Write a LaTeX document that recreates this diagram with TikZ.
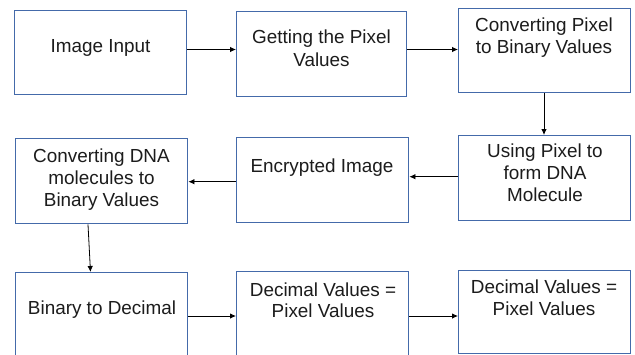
\documentclass[tikz,border=0pt]{standalone}
\usepackage{fontspec}
\setmainfont{Liberation Sans}
\usetikzlibrary{arrows.meta}
\definecolor{boxblue}{RGB}{68,106,170}
\definecolor{inkgray}{RGB}{28,28,28}
\tikzset{
  stepbox/.style={draw=boxblue, line width=1.4pt, fill=white, inner sep=0pt, anchor=north west},
  label/.style={anchor=base, inner sep=0pt, align=center, text=inkgray,
    font=\fontsize{18.9pt}{21.7pt}\selectfont},
  flow/.style={draw=black, line width=0.8pt, -{Latex[length=6pt,width=5.5pt]}}
}
\begin{document}
\begin{tikzpicture}[x=1pt, y=-1pt]
  \useasboundingbox (0,0) rectangle (635,354);
  \clip (0,0) rectangle (635,354);
  \fill[white] (0,0) rectangle (635,354);

  % process boxes
  \node[stepbox, minimum width=172pt, minimum height=84pt]  (b1) at (14,9.5) {};
  \node[stepbox, minimum width=170pt, minimum height=84.5pt] (b2) at (236,11) {};
  \node[stepbox, minimum width=172pt, minimum height=84pt]  (b3) at (458,7.5) {};
  \node[stepbox, minimum width=172.5pt, minimum height=85pt] (b4) at (14.5,138) {};
  \node[stepbox, minimum width=172pt, minimum height=84.5pt] (b5) at (236,137) {};
  \node[stepbox, minimum width=172pt, minimum height=84.5pt] (b6) at (458,135) {};
  \node[stepbox, minimum width=172.5pt, minimum height=100pt] (b7) at (14.5,272) {};
  \node[stepbox, minimum width=172pt, minimum height=100pt]  (b8) at (236,271) {};
  \node[stepbox, minimum width=172pt, minimum height=83pt]  (b9) at (458,269.5) {};

  % box texts (placed by the baseline of their last line)
  \node[label] (t1) at (100.5,52.5) {Image Input};
  \node[label, font=\fontsize{18.9pt}{23.4pt}\selectfont] (t2) at (321.5,66.7) {Getting the Pixel\\Values};
  \node[label] (t3) at (544,53) {Converting Pixel\\to Binary Values};
  \node[label] (t4) at (101.5,206.3) {Converting DNA\\molecules to\\Binary Values};
  \node[label] (t5) at (322,172) {Encrypted Image};
  \node[label] (t6) at (545,201) {Using Pixel to\\form DNA\\Molecule};
  \node[label] (t7) at (102,314.5) {Binary to Decimal};
  \node[label] (t8) at (323,317.7) {Decimal Values =\\Pixel Values};
  \node[label] (t9) at (544,315) {Decimal Values =\\Pixel Values};

  % connectors
  \draw[flow] (b1.east |- 0,49.5) -- (b2.west |- 0,49.5);
  \draw[flow] (b2.east |- 0,49.5) -- (b3.west |- 0,49.5);
  \draw[flow] (b3.south -| 544,0) -- (b6.north -| 544,0);
  \draw[flow] (b6.west |- 0,176.7) -- (b5.east |- 0,176.7);
  \draw[flow] (b5.west |- 0,181.7) -- (b4.east |- 0,181.7);
  \draw[flow] (b4.south -| 88,0) -- (b7.north -| 90.5,0);
  \draw[flow] (b7.east |- 0,316) -- (b8.west |- 0,316);
  \draw[flow] (b8.east |- 0,316) -- (b9.west |- 0,316);
\end{tikzpicture}
\end{document}
